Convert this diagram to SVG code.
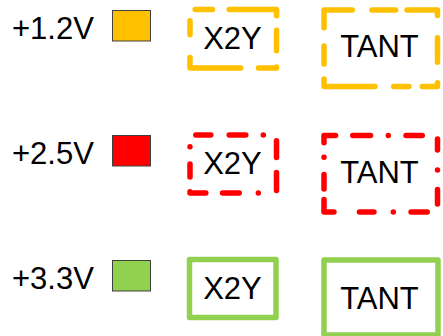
<svg xmlns="http://www.w3.org/2000/svg" width="443" height="336" viewBox="0 0 443 336">
<style>
text{font-family:"Liberation Sans",Arial,sans-serif;font-size:31px;fill:#000}
.mid{text-anchor:middle}
.sw{stroke:#404040;stroke-width:1}
.box{fill:none;stroke-width:5.5;stroke-linecap:round;stroke-linejoin:round}
.y{stroke:#FFC000}.r{stroke:#FF0000}.g{stroke:#92D050}
</style>
<rect width="443" height="336" fill="#fff"/>
<g id="legend-12"><text x="12" y="38.5">+1.2V</text><rect class="sw" x="112.5" y="10.5" width="38" height="30.5" fill="#FFC000"/></g>
<g id="legend-25"><text x="12" y="163.5">+2.5V</text><rect class="sw" x="112.5" y="135.5" width="38" height="30.5" fill="#FF0000"/></g>
<g id="legend-33"><text x="12" y="288.5">+3.3V</text><rect class="sw" x="112.5" y="260.5" width="38" height="30.5" fill="#92D050"/></g>
<g id="x2y-12"><rect class="box y" x="190" y="9.5" width="86.5" height="58.5" stroke-dasharray="17.3 16.7 53.6 14.4 20.6 16.2 19 17.7 61.3 22.7 14 16.5" stroke-dashoffset="-5.2"/><text class="mid" x="232.5" y="49">X2Y</text></g>
<g id="tant-12"><rect class="box y" x="324" y="10" width="113.5" height="76.5" stroke-dasharray="23.6 11.4 36.1 22.15 24.5 20.5 19 13.3 15.2 18.8 58.5 15 17.9 18.3 46.05 19.7" stroke-dashoffset="-48"/><text class="mid" x="379.5" y="57">TANT</text></g>
<g id="x2y-25"><rect class="box r" x="190" y="135" width="86.5" height="58" stroke-dasharray="15 18.4 16.6 17.5 0 19 16.7 15 18 20.7 0 19.1 16.7 16.7 17 14.8 13 17.3 0 17.5" stroke-dashoffset="-5.8"/><text class="mid" x="232.5" y="174">X2Y</text></g>
<g id="tant-25"><rect class="box r" x="324" y="135.5" width="113.5" height="76.5" stroke-dasharray="17.8 17.75 0 17.75 16.2 18.75 11 20 0 19.45 14.5 18.3 16.2 17.75 0 19.35 14.5 25.5 22.5 10.5 14.5 17.15 0 14.55 18.8 17.2" stroke-dashoffset="-28.75"/><text class="mid" x="379.5" y="183">TANT</text></g>
<g id="x2y-33"><rect class="box g" x="189.5" y="259.5" width="86.5" height="58"/><text class="mid" x="232.5" y="298.5">X2Y</text></g>
<g id="tant-33"><rect class="box g" x="324" y="260" width="114" height="75"/><text class="mid" x="379.5" y="308.5">TANT</text></g>
<g id="connectors"/>
</svg>
